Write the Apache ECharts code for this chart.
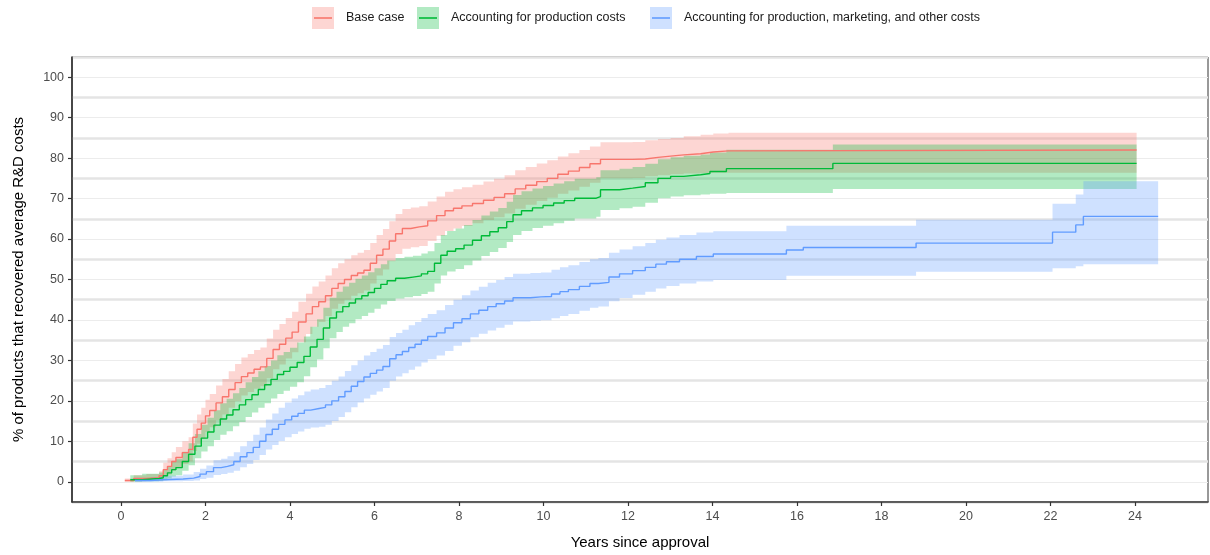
<!DOCTYPE html>
<html>
<head>
<meta charset="utf-8">
<script src="https://cdn.jsdelivr.net/npm/echarts@6/dist/echarts.min.js"></script>
<style>
html,body{margin:0;padding:0;background:#fff;}
#chart{width:1210px;height:555px;}
</style>
</head>
<body>
<div id="chart"></div>
<script>
// rows: [years since approval, estimate %, lower CI %, upper CI %]
const baseCase = [
[0.09,0.3,0.0,0.8],[0.3,0.8,0.1,1.6],[0.6,1.0,0.2,1.9],[0.9,1.5,0.4,2.6],[1.0,3.0,1.3,4.7],
[1.1,3.8,1.8,5.8],[1.2,5.0,2.7,7.3],[1.3,6.0,3.4,8.6],[1.45,7.2,4.4,10.0],[1.6,8.0,5.0,11.0],
[1.7,11.0,7.6,14.4],[1.8,13.0,9.4,16.6],[1.9,14.5,10.7,18.3],[2.0,16.3,12.3,20.3],[2.1,17.6,13.5,21.7],
[2.25,19.5,15.2,23.8],[2.4,21.0,16.6,25.4],[2.55,22.8,18.3,27.3],[2.7,24.5,19.9,29.1],[2.85,26.0,21.3,30.7],
[3.0,26.9,22.2,31.6],[3.15,27.8,23.0,32.6],[3.3,28.4,23.6,33.2],[3.45,30.5,25.6,35.4],[3.6,32.7,27.8,37.6],
[3.75,34.0,29.0,39.0],[3.9,35.5,30.5,40.5],[4.05,37.0,32.0,42.0],[4.2,39.5,34.5,44.5],[4.38,41.5,36.5,46.5],
[4.53,43.3,38.3,48.3],[4.68,44.5,39.5,49.5],[4.84,46.0,41.0,51.0],[4.99,47.8,42.8,52.8],[5.14,49.0,44.0,54.0],
[5.29,50.0,45.0,55.0],[5.45,51.0,46.0,56.0],[5.6,51.6,46.6,56.6],[5.75,52.3,47.3,57.3],[5.9,54.0,49.0,59.0],
[6.05,56.0,51.0,61.0],[6.2,57.5,52.5,62.5],[6.35,59.5,54.5,64.4],[6.5,61.3,56.3,66.2],[6.66,62.6,57.6,67.4],
[6.86,63.0,58.0,67.8],[7.06,63.3,58.3,68.1],[7.26,64.5,59.5,69.3],[7.47,65.8,60.8,70.5],[7.67,67.0,62.0,71.7],
[7.87,67.6,62.6,72.3],[8.07,68.2,63.2,72.8],[8.32,68.8,63.9,73.4],[8.58,69.6,64.7,74.2],[8.83,70.3,65.4,74.9],
[9.08,71.2,66.3,75.8],[9.33,72.4,67.5,77.0],[9.58,73.3,68.5,77.8],[9.84,74.2,69.4,78.7],[10.09,75.0,70.2,79.5],
[10.34,76.0,71.2,80.4],[10.59,76.8,72.0,81.2],[10.85,77.7,72.9,82.0],[11.1,78.6,73.9,82.9],[11.35,79.7,75.0,83.9],
[12.11,79.8,75.1,84.0],[12.41,80.2,75.5,84.4],[12.71,80.5,75.8,84.7],[13.01,80.8,76.0,85.0],[13.32,81.1,76.2,85.4],
[13.72,81.5,76.3,85.8],[14.02,81.8,76.4,86.1],[14.38,82.0,76.4,86.3],[24.04,82.0,76.4,86.3]
];
const productionCosts = [
[0.22,0.5,0.0,1.6],[0.5,0.8,0.1,2.0],[0.9,1.0,0.2,2.3],[1.0,1.5,0.4,3.0],[1.1,2.2,0.8,3.9],
[1.2,3.0,1.3,5.0],[1.3,3.5,1.6,5.6],[1.45,5.0,2.7,7.4],[1.6,6.8,4.1,9.5],[1.75,8.8,5.8,11.8],
[1.9,10.8,7.5,14.1],[2.05,12.3,8.8,15.8],[2.2,14.0,10.3,17.7],[2.35,15.5,11.6,19.4],[2.5,16.5,12.5,20.5],
[2.65,17.8,13.7,21.9],[2.8,19.0,14.8,23.2],[2.95,20.3,16.0,24.6],[3.1,21.5,17.1,25.9],[3.25,22.8,18.3,27.3],
[3.4,24.0,19.4,28.6],[3.55,25.3,20.6,30.0],[3.7,26.5,21.7,31.3],[3.85,27.3,22.5,32.1],[4.0,28.3,23.5,33.1],
[4.17,29.5,24.6,34.4],[4.33,31.0,26.1,35.9],[4.48,33.3,28.3,38.3],[4.64,35.2,30.2,40.2],[4.79,38.0,33.0,43.0],
[4.94,40.5,35.5,45.5],[5.1,42.0,37.0,47.0],[5.25,43.3,38.3,48.3],[5.4,44.2,39.2,49.2],[5.55,45.2,40.2,50.2],
[5.7,46.0,41.0,51.0],[5.85,46.8,41.8,51.8],[6.0,47.8,42.8,52.8],[6.15,48.8,43.8,53.8],[6.3,49.7,44.7,54.7],
[6.5,50.3,45.3,55.3],[6.71,50.6,45.6,55.6],[6.91,50.9,45.9,55.9],[7.11,51.4,46.4,56.4],[7.26,52.0,47.0,57.0],
[7.42,54.0,49.0,59.0],[7.57,56.0,51.0,61.0],[7.72,57.0,52.0,62.0],[7.92,57.6,52.6,62.6],[8.12,58.5,53.5,63.5],
[8.32,59.7,54.7,64.7],[8.53,60.8,55.8,65.8],[8.73,61.8,56.8,66.8],[8.93,62.8,57.8,67.7],[9.13,64.3,59.3,69.2],
[9.28,66.0,61.0,70.9],[9.48,67.0,62.0,71.8],[9.74,67.7,62.7,72.5],[9.99,68.3,63.3,73.1],[10.24,68.9,63.9,73.7],
[10.49,69.5,64.5,74.3],[10.74,70.1,65.1,74.9],[11.25,70.5,65.5,75.3],[11.35,72.2,67.2,77.0],[11.8,72.6,67.6,77.4],
[12.11,73.0,68.0,77.8],[12.41,73.9,69.0,78.6],[12.71,75.0,70.1,79.7],[13.01,75.5,70.5,80.2],[13.32,75.9,70.8,80.6],
[13.72,76.2,71.0,80.9],[13.94,76.7,71.2,81.4],[14.33,77.4,71.4,82.1],[16.85,78.7,72.4,83.4],[24.04,78.7,72.4,83.4]
];
const allCosts = [
[0.33,0.3,0.0,0.8],[0.7,0.5,0.0,1.2],[1.0,0.7,0.1,1.5],[1.47,0.9,0.2,1.8],[1.72,1.3,0.3,2.4],
[1.87,1.9,0.7,3.2],[2.02,2.5,1.0,4.0],[2.19,3.5,1.7,5.3],[2.37,3.8,1.9,5.7],[2.52,4.2,2.2,6.3],
[2.67,5.0,2.7,7.3],[2.82,6.2,3.6,8.8],[2.98,7.2,4.4,10.0],[3.13,8.5,5.4,11.6],[3.28,10.0,6.6,13.4],
[3.43,11.7,8.0,15.4],[3.58,13.0,9.1,16.9],[3.73,14.2,10.1,18.3],[3.88,15.3,11.0,19.6],[4.04,16.2,11.8,20.6],
[4.19,16.9,12.4,21.4],[4.34,17.7,13.1,22.3],[4.49,18.1,13.4,22.8],[4.69,18.4,13.6,23.2],[4.84,19.0,14.1,23.9],
[4.99,20.0,15.0,25.0],[5.15,21.0,16.0,26.0],[5.3,22.3,17.2,27.4],[5.45,23.6,18.4,28.8],[5.6,24.8,19.6,30.0],
[5.75,25.9,20.6,31.2],[5.9,26.8,21.5,32.1],[6.05,27.6,22.3,32.9],[6.2,28.5,23.2,33.8],[6.36,30.4,25.0,35.8],
[6.51,31.4,26.0,36.8],[6.66,32.2,26.8,37.6],[6.81,33.2,27.7,38.7],[6.96,34.0,28.5,39.5],[7.11,35.0,29.5,40.5],
[7.26,35.9,30.3,41.5],[7.47,36.8,31.2,42.4],[7.67,38.0,32.3,43.7],[7.87,39.3,33.6,45.0],[8.07,40.3,34.5,46.1],
[8.27,41.5,35.7,47.3],[8.47,42.4,36.6,48.2],[8.68,43.3,37.4,49.2],[8.88,44.0,38.1,49.9],[9.08,44.7,38.8,50.6],
[9.28,45.5,39.6,51.4],[9.69,45.7,39.8,51.6],[9.94,45.8,39.9,51.7],[10.19,46.4,40.4,52.4],[10.39,47.0,41.0,53.0],
[10.59,47.5,41.5,53.5],[10.85,48.3,42.3,54.3],[11.1,49.0,43.0,55.0],[11.3,49.3,43.3,55.3],[11.55,50.6,44.6,56.6],
[11.8,51.4,45.4,57.4],[12.11,52.2,46.2,58.2],[12.41,53.0,47.0,59.0],[12.66,53.8,47.8,59.8],[12.91,54.4,48.4,60.4],
[13.22,55.0,49.0,61.0],[13.62,55.7,49.5,61.6],[14.02,56.3,49.9,61.9],[15.75,57.3,50.9,63.3],[16.15,57.9,50.9,63.3],
[18.82,59.0,51.9,64.8],[22.05,61.7,52.8,68.7],[22.6,63.5,53.3,71.0],[22.78,65.6,53.8,74.3],[24.55,65.6,53.8,74.3]
];
const seriesNames = ['Base case', 'Accounting for production costs', 'Accounting for production, marketing, and other costs'];
const xTicks = [0, 2, 4, 6, 8, 10, 12, 14, 16, 18, 20, 22, 24];
const yTicks = [0, 10, 20, 30, 40, 50, 60, 70, 80, 90, 100];

const lineColors = ['#F8766D', '#00BA38', '#619CFF'];
const fillColors = ['rgba(248,118,109,0.3)', 'rgba(0,186,56,0.3)', 'rgba(97,156,255,0.3)'];
const legendLeft = [312, 417, 650];
const FONT = '"Liberation Sans", Arial, Helvetica, sans-serif';

function bandSeries(rows, fill) {
  return {
    type: 'custom',
    name: '_band',
    silent: true,
    clip: true,
    data: [[rows[0][0], rows[0][2]]],
    renderItem: function (params, api) {
      const pts = [];
      const n = rows.length;
      for (let i = 0; i < n; i++) {
        pts.push(api.coord([rows[i][0], rows[i][3]]));
        if (i < n - 1) pts.push(api.coord([rows[i + 1][0], rows[i][3]]));
      }
      for (let i = n - 1; i >= 0; i--) {
        if (i < n - 1) pts.push(api.coord([rows[i + 1][0], rows[i][2]]));
        pts.push(api.coord([rows[i][0], rows[i][2]]));
      }
      return { type: 'polygon', shape: { points: pts }, style: { fill: fill, stroke: null } };
    }
  };
}
function lineSeries(name, rows, color) {
  return {
    type: 'line',
    name: name,
    step: 'end',
    showSymbol: false,
    symbol: 'none',
    silent: true,
    animation: false,
    lineStyle: { color: color, width: 1.4 },
    itemStyle: { color: color },
    data: rows.map(r => [r[0], r[1]])
  };
}
function keyIcon(i) {
  const svg = "<svg xmlns='http://www.w3.org/2000/svg' width='29' height='22' viewBox='0 0 29 22'>" +
    "<rect x='0' y='0' width='22' height='22' fill='" + fillColors[i] + "'/>" +
    "<line x1='2' y1='11' x2='20' y2='11' stroke='" + lineColors[i] + "' stroke-width='1.6'/></svg>";
  return 'image://data:image/svg+xml;charset=utf-8,' + encodeURIComponent(svg);
}

const chart = echarts.init(document.getElementById('chart'), null, { renderer: 'canvas' });
const datasets = [baseCase, productionCosts, allCosts];
const series = [];
datasets.forEach((rows, i) => {
  series.push(bandSeries(rows, fillColors[i]));
  series.push(lineSeries(seriesNames[i], rows, lineColors[i]));
});

chart.setOption({
  animation: false,
  backgroundColor: '#ffffff',
  textStyle: { fontFamily: FONT },
  legend: seriesNames.map((n, i) => ({
    top: 7,
    left: legendLeft[i],
    padding: 0,
    itemWidth: 29,
    itemHeight: 22,
    selectedMode: false,
    textStyle: { fontFamily: FONT, fontSize: 12.5, color: '#1a1a1a' },
    data: [{ name: n, icon: keyIcon(i) }]
  })),
  grid: {
    left: 72, right: 2, top: 57, bottom: 53,
    show: true, borderColor: '#333333', borderWidth: 1, backgroundColor: 'transparent'
  },
  xAxis: {
    type: 'value',
    min: -1.16, max: 25.73,
    name: 'Years since approval',
    nameLocation: 'middle',
    nameGap: 33,
    nameTextStyle: { fontFamily: FONT, fontSize: 15, color: '#000' },
    axisLine: { show: true, onZero: false, lineStyle: { color: '#333333', width: 1.6 } },
    axisTick: { show: true, length: 4, customValues: xTicks, lineStyle: { color: '#333333', width: 1.2 } },
    axisLabel: { customValues: xTicks, margin: 8, fontFamily: FONT, fontSize: 12.5, color: '#4d4d4d' },
    splitLine: { show: false }
  },
  yAxis: [{
    type: 'value',
    min: -5, max: 105, interval: 5,
    name: '% of products that recovered average R&D costs',
    nameLocation: 'middle',
    nameRotate: 90,
    nameGap: 46,
    nameTextStyle: { fontFamily: FONT, fontSize: 15, color: '#000' },
    axisLine: { show: true, onZero: false, lineStyle: { color: '#333333', width: 1.6 } },
    axisTick: { show: true, length: 4, customValues: yTicks, lineStyle: { color: '#333333', width: 1.2 } },
    axisLabel: { customValues: yTicks, margin: 8, fontFamily: FONT, fontSize: 12.5, color: '#4d4d4d' },
    splitLine: { show: true, lineStyle: { color: '#ececec', width: 1 } }
  }, {
    type: 'value',
    min: -5, max: 105, interval: 10,
    position: 'left',
    axisLine: { show: false },
    axisTick: { show: false },
    axisLabel: { show: false },
    splitLine: { show: true, lineStyle: { color: '#e4e4e4', width: 2.5 } }
  }],
  series: series
});
</script>
</body>
</html>
